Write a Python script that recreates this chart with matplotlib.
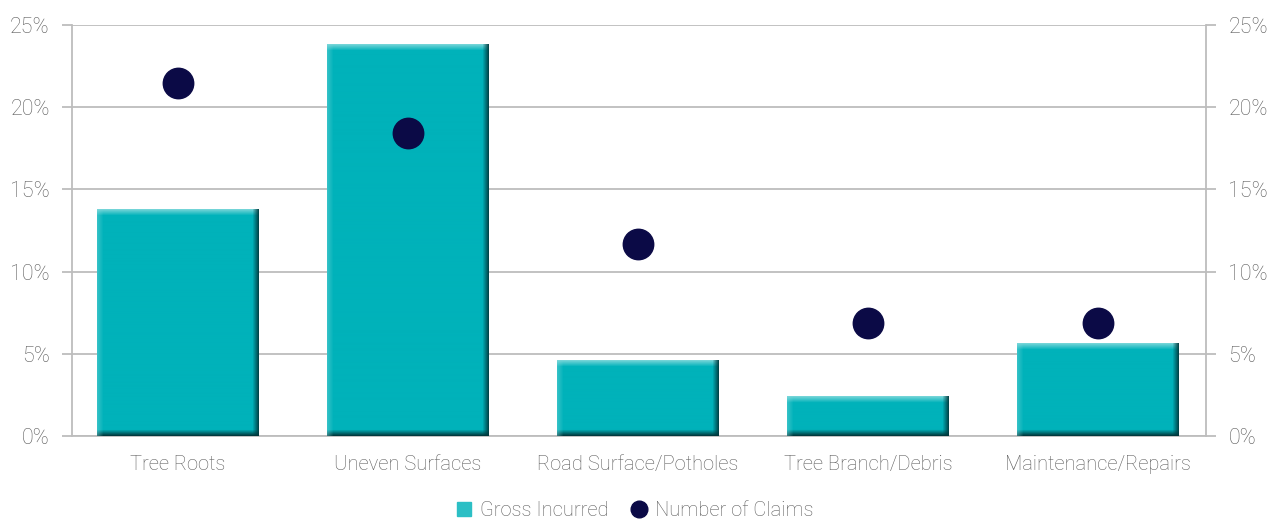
import numpy as np
import matplotlib
matplotlib.use("Agg")
import matplotlib.pyplot as plt
from matplotlib.lines import Line2D

categories = ["Tree Roots", "Uneven Surfaces", "Road Surface/Potholes",
              "Tree Branch/Debris", "Maintenance/Repairs"]
gross_incurred = [13.8, 23.8, 4.6, 2.4, 5.6]
number_of_claims = [21.5, 18.4, 11.7, 6.9, 6.9]
yticks = [0, 5, 10, 15, 20, 25]

teal = np.array([0x00, 0xB2, 0xBA]) / 255
light = np.array([0x80, 0xD8, 0xDB]) / 255
dark = np.array([0x00, 0x3A, 0x3E]) / 255
navy = "#0b0a46"
grey = "#bdbdbd"
txt = "#5c5c5c"

plt.rcParams['font.family'] = ['Roboto', 'DejaVu Sans']
plt.rcParams['font.weight'] = 'light'

fig = plt.figure(figsize=(12.81, 5.25), dpi=100)
ax = fig.add_axes([0.0562, 0.1695, 0.8853, 0.7829])
x = np.arange(len(categories))
width = 0.70

ax.bar(x, gross_incurred, width, color=teal, zorder=2)


# bevel look: a small shaded image laid over each bar
def bevel_img(w_px, h_px, edge=6):
    img = np.ones((h_px, w_px, 3)) * teal
    for i in range(edge):
        t = 1 - i / edge
        img[i, :, :] = teal + (light - teal) * t * 0.9           # top
        img[h_px - 1 - i, :, :] = teal + (dark - teal) * t       # bottom
    for j in range(edge):
        t = 1 - j / edge
        img[:, j, :] = img[:, j, :] + (light - img[:, j, :]) * t * 0.4
        img[:, w_px - 1 - j, :] = img[:, w_px - 1 - j, :] + (dark - img[:, w_px - 1 - j, :]) * t * 0.9
    return np.clip(img, 0, 1)


for xi, h in zip(x, gross_incurred):
    h_px = max(int(h * 16.44), 16)
    ax.imshow(bevel_img(162, h_px), extent=(xi - width / 2, xi + width / 2, 0, h),
              aspect='auto', interpolation='bilinear', zorder=3)

ax.scatter(x, number_of_claims, s=480, color=navy, zorder=4)

ax.set_xlim(-0.46, 4.47)
ax.set_ylim(0, 25)
ax.set_yticks(yticks)
ax.set_yticklabels([f"{v}%" for v in yticks])
ax.yaxis.grid(True, color=grey, linewidth=1.3, zorder=0)
ax.set_axisbelow(True)
ax.tick_params(axis='y', length=7, width=1.3, color=grey, labelcolor=txt,
               labelsize=15.5, pad=9, left=True, right=True,
               labelleft=True, labelright=True)
ax.set_xticks(x)
ax.set_xticklabels(categories)
ax.tick_params(axis='x', length=0, labelcolor=txt, labelsize=14.5, pad=14)
for s in ['left', 'right', 'bottom']:
    ax.spines[s].set_color(grey)
    ax.spines[s].set_linewidth(1.3)
ax.spines['top'].set_visible(False)

handles = [Line2D([], [], marker='s', linestyle='none', markersize=10,
                  color='#2cbfc5', label='Gross Incurred'),
           Line2D([], [], marker='o', linestyle='none', markersize=12,
                  color=navy, label='Number of Claims')]
leg = fig.legend(handles=handles, loc='center', bbox_to_anchor=(0.495, 0.027),
                 ncol=2, frameon=False, fontsize=14.5, handletextpad=0.3,
                 columnspacing=1.0, handlelength=1.0)
for t in leg.get_texts():
    t.set_color(txt)

fig.savefig("out.png", dpi=100)
